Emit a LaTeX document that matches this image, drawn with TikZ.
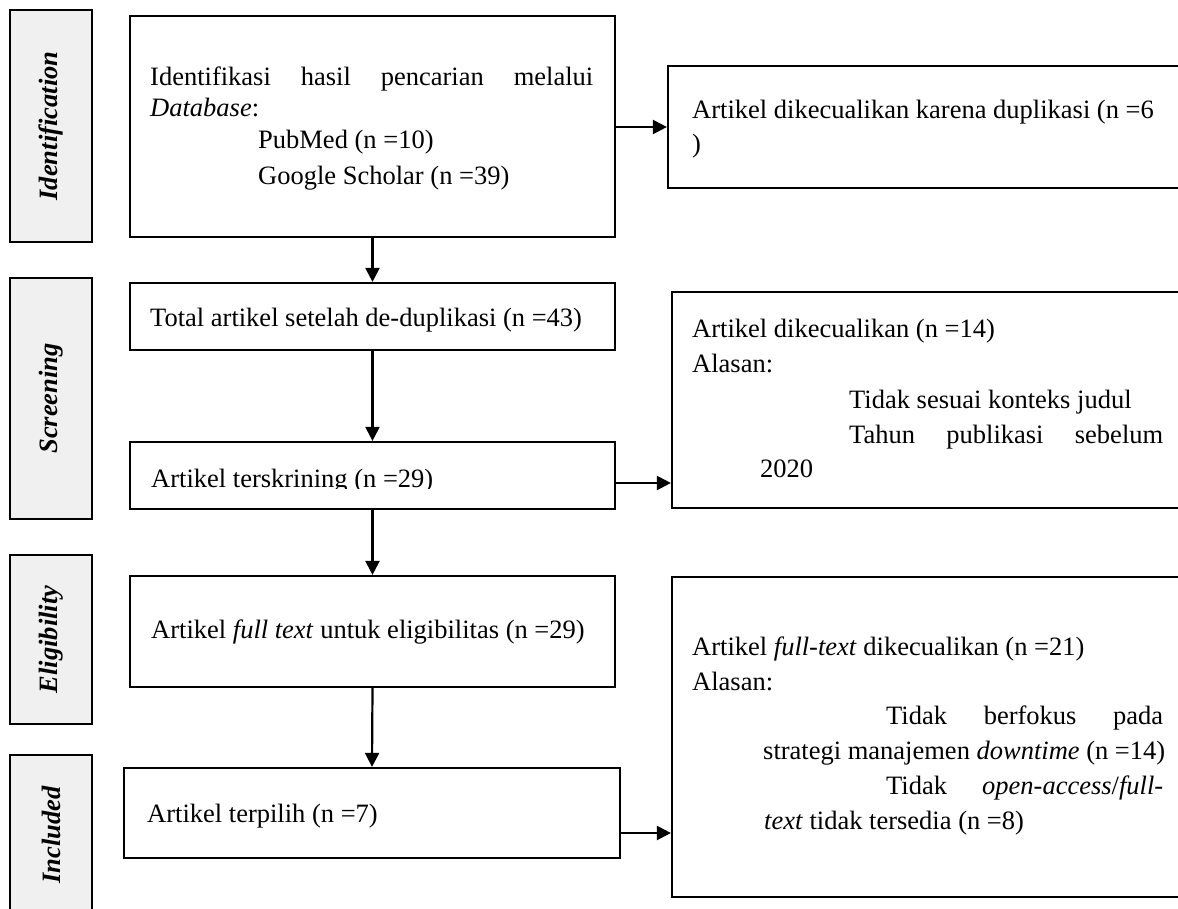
\documentclass[tikz,border=0pt]{standalone}
\usepackage{fontspec}
\setmainfont{Liberation Serif}
\usetikzlibrary{arrows.meta}
\definecolor{labfill}{HTML}{F0F0F0}
\begin{document}
\begin{tikzpicture}[x=1pt,y=-1pt,
  every node/.style={font=\fontsize{26.5}{35}\selectfont},
  box/.style={draw, line width=2.2pt, inner sep=0pt, fill=white},
  lab/.style={draw, line width=2.2pt, inner sep=0pt, fill=labfill, rotate=90, font=\fontsize{26.5}{30}\selectfont\bfseries\itshape},
  txt/.style={anchor=base west, inner sep=0pt},
  arr/.style={line width=2.2pt, -{Triangle[length=14pt,width=14pt]}}]
\clip (0,0) rectangle (1178,908);
\fill[white] (0,0) rectangle (1178,908);
% stage labels
\node[lab, minimum width=232pt, minimum height=82pt] (l1) at (51,126) {Identification};
\node[lab, minimum width=241pt, minimum height=82pt] (l2) at (51,398.5) {Screening};
\node[lab, minimum width=169pt, minimum height=82pt] (l3) at (51,639.5) {Eligibility};
\node[lab, minimum width=160pt, minimum height=82pt] (l4) at (51,835) {Included};
% main boxes
\node[box, minimum width=485pt, minimum height=221pt] (b1) at (372.5,126.5) {};
\node[box, minimum width=485pt, minimum height=67pt] (b2) at (372.5,316.5) {};
\node[box, minimum width=485pt, minimum height=67pt] (b3) at (372.5,475.5) {};
\node[box, minimum width=485pt, minimum height=111pt] (b4) at (372.5,631.5) {};
\node[box, minimum width=496pt, minimum height=90pt] (b5) at (372,813) {};
% right boxes
\node[box, minimum width=520pt, minimum height=122pt] (r1) at (928,127) {};
\node[box, minimum width=520pt, minimum height=216pt] (r2) at (932,400) {};
\node[box, minimum width=520pt, minimum height=320pt] (r3) at (932,737) {};
% texts main
\node[txt] (t1a) at (150,85) {\makebox[443pt][s]{Identifikasi hasil pencarian melalui}};
\node[txt] (t1b) at (150,116) {\textit{Database}:};
\node[txt] (t1c) at (258,148) {PubMed (n =10)};
\node[txt] (t1d) at (258,184) {Google Scholar (n =39)};
\node[txt] (t2) at (150,326) {Total artikel setelah de-duplikasi (n =43)};
\begin{scope}
\clip (130,442) rectangle (615,488.5);
\node[txt] (t3) at (151,487) {Artikel terskrining (n =29)};
\end{scope}
\node[txt] (t4) at (151,638) {Artikel \textit{full text} untuk eligibilitas (n =29)};
\node[txt] (t5) at (147,822) {Artikel terpilih (n =7)};
% texts right
\node[txt] (s1a) at (692,118) {Artikel dikecualikan karena duplikasi (n =6};
\node[txt] (s1b) at (692,152) {)};
\node[txt] (s2a) at (692,337) {Artikel dikecualikan (n =14)};
\node[txt] (s2b) at (692,372) {Alasan:};
\node[txt] (s2c) at (849,408) {Tidak sesuai konteks judul};
\node[txt] (s2d) at (849,443) {\makebox[314pt][s]{Tahun publikasi sebelum}};
\node[txt] (s2e) at (760,477) {2020};
\node[txt] (s3a) at (692,655) {Artikel \textit{full-text} dikecualikan (n =21)};
\node[txt] (s3b) at (692,690) {Alasan:};
\node[txt] (s3c) at (886,724) {\makebox[277pt][s]{Tidak berfokus pada}};
\node[txt] (s3d) at (763,759) {strategi manajemen \textit{downtime} (n =14)};
\node[txt] (s3e) at (886,794) {\makebox[277pt][s]{Tidak \textit{open-access}/\textit{full-}}};
\node[txt] (s3f) at (764,829) {\textit{text} tidak tersedia (n =8)};
% arrows
\draw[arr] (b1.south) -- (b2.north);
\draw[arr] (b2.south) -- (b3.north);
\draw[arr] (b3.south) -- (b4.north);
\draw[arr] (b4.south) -- (b5.north);
\coordinate (h1) at (0,127);
\coordinate (h2) at (0,483);
\coordinate (h3) at (0,833);
\draw[arr] (b1.east |- h1) -- (r1.west |- h1);
\draw[arr] (b3.east |- h2) -- (r2.west |- h2);
\draw[arr] (b5.east |- h3) -- (r3.west |- h3);
\end{tikzpicture}
\end{document}
